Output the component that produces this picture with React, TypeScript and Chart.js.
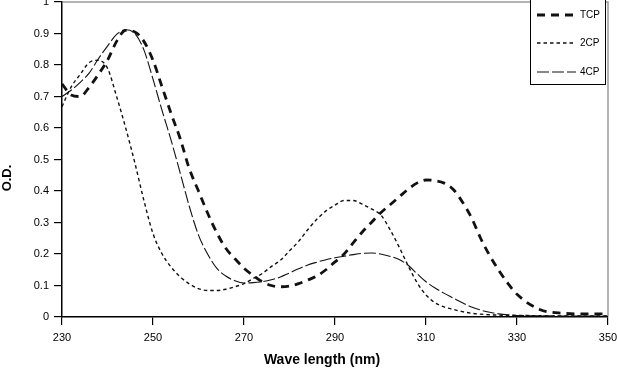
import { useEffect, useRef } from "react";
import { Chart, registerables } from "chart.js";

Chart.register(...registerables);

const wavelengths = [
  230, 232, 234, 236, 238, 240, 242, 244, 246, 248, 250, 252, 254, 256, 258, 260,
  262, 264, 266, 268, 270, 272, 274, 276, 278, 280, 282, 284, 286, 288, 290, 292,
  294, 296, 298, 300, 302, 304, 306, 308, 310, 312, 314, 316, 318, 320, 322, 324,
  326, 328, 330, 335, 340, 345, 350,
];

const tcpValues = [
  0.74, 0.705, 0.7, 0.73, 0.77, 0.815, 0.875, 0.91, 0.905, 0.875, 0.815, 0.73, 0.645, 0.565, 0.47, 0.4,
  0.33, 0.268, 0.218, 0.185, 0.155, 0.132, 0.112, 0.1, 0.096, 0.098, 0.106, 0.117, 0.13, 0.15, 0.175, 0.2,
  0.235, 0.27, 0.3, 0.33, 0.355, 0.38, 0.405, 0.425, 0.435, 0.433, 0.425, 0.405, 0.365, 0.315, 0.25, 0.195,
  0.148, 0.107, 0.072, 0.024, 0.012, 0.01, 0.01,
];

const cp2Values = [
  0.668, 0.73, 0.77, 0.808, 0.815, 0.79, 0.7, 0.6, 0.49, 0.37, 0.265, 0.2, 0.158, 0.127, 0.105, 0.09,
  0.084, 0.084, 0.088, 0.096, 0.106, 0.122, 0.138, 0.16, 0.18, 0.21, 0.24, 0.277, 0.31, 0.337, 0.355, 0.37,
  0.37, 0.358, 0.343, 0.325, 0.28, 0.225, 0.165, 0.11, 0.07, 0.045, 0.032, 0.024, 0.017, 0.012, 0.009, 0.007,
  0.006, 0.005, 0.005, 0.004, 0.003, 0.003, 0.003,
];

const cp4Values = [
  0.7, 0.72, 0.745, 0.775, 0.82, 0.86, 0.897, 0.912, 0.9, 0.848, 0.755, 0.655, 0.56, 0.456, 0.35, 0.26,
  0.2, 0.155, 0.13, 0.115, 0.108, 0.109, 0.112, 0.118, 0.127, 0.14, 0.153, 0.165, 0.174, 0.182, 0.188, 0.193,
  0.198, 0.202, 0.203, 0.2, 0.193, 0.183, 0.165, 0.138, 0.112, 0.092, 0.075, 0.06, 0.045, 0.032, 0.022, 0.015,
  0.01, 0.007, 0.005, 0.004, 0.003, 0.003, 0.003,
];

const seriesLabels = ["TCP", "2CP", "4CP"];
const xTickValues = [230, 250, 270, 290, 310, 330, 350];
const xTitle = "Wave length (nm)";
const yTitle = "O.D.";

const FONT = "'Liberation Sans', Arial, sans-serif";

const toPoints = (vals: number[]) => wavelengths.map((x, i) => ({ x, y: vals[i] }));

const decorPlugin = {
  id: "decor",
  afterDatasetsDraw(chart: any) {
    const { ctx, chartArea: a } = chart;
    ctx.save();
    // gray frame top/right
    ctx.strokeStyle = "#9a9a9a";
    ctx.lineWidth = 1.5;
    ctx.setLineDash([]);
    ctx.beginPath();
    ctx.moveTo(a.left + 1, a.top);
    ctx.lineTo(a.right, a.top);
    ctx.lineTo(a.right, a.bottom - 1);
    ctx.stroke();

    // legend box
    const bx = 530, by = -1, bw = 75, bh = 85;
    ctx.fillStyle = "#fff";
    ctx.fillRect(bx, by, bw, bh);
    ctx.strokeStyle = "#000";
    ctx.lineWidth = 1;
    ctx.strokeRect(bx + 0.5, by + 0.5, bw, bh);
    const rows = [15, 43, 72];
    chart.data.datasets.forEach((ds: any, i: number) => {
      const y = rows[i];
      ctx.save();
      ctx.strokeStyle = ds.borderColor;
      ctx.lineWidth = ds.borderWidth;
      ctx.setLineDash(ds.borderDash || []);
      ctx.lineCap = "butt";
      ctx.beginPath();
      ctx.moveTo(537, y);
      ctx.lineTo(576, y);
      ctx.stroke();
      ctx.restore();
      ctx.fillStyle = "#000";
      ctx.font = `10px ${FONT}`;
      ctx.textAlign = "left";
      ctx.textBaseline = "middle";
      ctx.fillText(ds.label, 580, y + 0.5);
    });

    // axis titles
    ctx.fillStyle = "#000";
    ctx.font = `bold 14px ${FONT}`;
    ctx.textAlign = "center";
    ctx.textBaseline = "middle";
    ctx.fillText(xTitle, 322, 360);
    ctx.save();
    ctx.translate(7, 178);
    ctx.rotate(-Math.PI / 2);
    ctx.font = `bold 13px ${FONT}`;
    ctx.fillText(yTitle, 0, 0);
    ctx.restore();
    ctx.restore();
  },
};

export default function App() {
  const ref = useRef<HTMLCanvasElement | null>(null);
  useEffect(() => {
    if (!ref.current) return;
    Chart.defaults.font.family = FONT;
    const chart = new Chart(ref.current, {
      type: "line",
      data: {
        datasets: [
          {
            label: seriesLabels[0],
            data: toPoints(tcpValues),
            borderColor: "#111",
            borderWidth: 2.8,
            borderDash: [8, 6],
            pointRadius: 0,
            cubicInterpolationMode: "monotone",
            fill: false,
          },
          {
            label: seriesLabels[1],
            data: toPoints(cp2Values),
            borderColor: "#111",
            borderWidth: 1.4,
            borderDash: [3.5, 3],
            pointRadius: 0,
            cubicInterpolationMode: "monotone",
            fill: false,
          },
          {
            label: seriesLabels[2],
            data: toPoints(cp4Values),
            borderColor: "#111",
            borderWidth: 1.1,
            borderDash: [12, 3],
            pointRadius: 0,
            cubicInterpolationMode: "monotone",
            fill: false,
          },
        ],
      },
      options: {
        animation: false,
        responsive: false,
        layout: { padding: { left: 0, right: 9, top: 2, bottom: 0 } },
        plugins: { legend: { display: false }, tooltip: { enabled: false } },
        scales: {
          x: {
            type: "linear",
            min: 230,
            max: 350,
            afterFit: (s: any) => {
              s.height = 51;
              s.paddingLeft = 0;
              s.paddingRight = 0;
            },
            afterBuildTicks: (s: any) => {
              s.ticks = xTickValues.map((v) => ({ value: v }));
            },
            ticks: {
              color: "#000",
              font: { size: 11 },
              padding: 6,
              maxRotation: 0,
              autoSkip: false,
            },
            grid: { drawOnChartArea: false, drawTicks: true, tickLength: 8, color: "#000", lineWidth: 1.2 },
            border: { display: true, color: "#000", width: 1.5 },
          },
          y: {
            min: 0,
            max: 1,
            afterFit: (s: any) => {
              s.width = 62;
              s.paddingTop = 0;
              s.paddingBottom = 0;
            },
            ticks: {
              stepSize: 0.1,
              color: "#000",
              font: { size: 11 },
              padding: 5,
              callback: (v: any) => String(Number(Number(v).toFixed(2))),
            },
            grid: { drawOnChartArea: false, drawTicks: true, tickLength: 8, color: "#000", lineWidth: 1.2 },
            border: { display: true, color: "#000", width: 1.5 },
          },
        },
      },
      plugins: [decorPlugin],
    });
    return () => chart.destroy();
  }, []);
  return (
    <div style={{ position: "absolute", left: 0, top: 0, width: 617, height: 368, background: "#fff" }}>
      <canvas ref={ref} width={617} height={368} style={{ display: "block" }} />
    </div>
  );
}
